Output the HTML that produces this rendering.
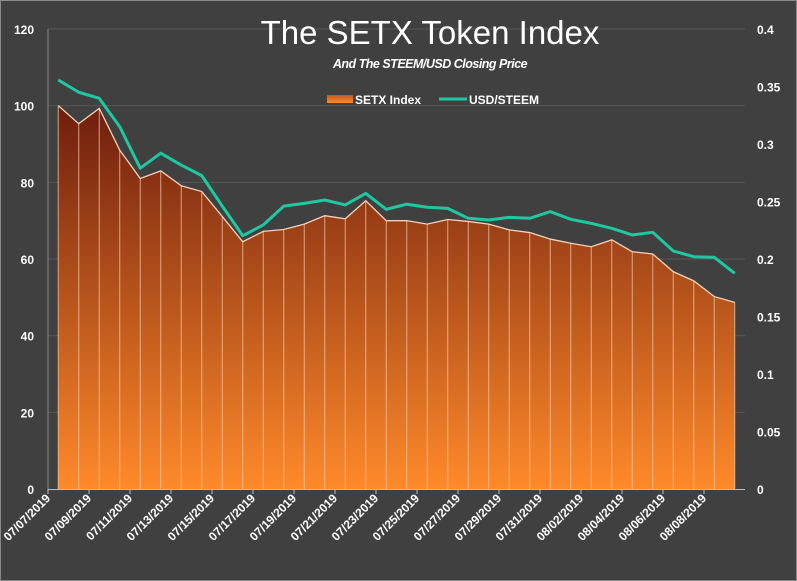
<!DOCTYPE html>
<html><head><meta charset="utf-8"><style>
html,body{margin:0;padding:0;background:#404040;}
svg{display:block;font-family:"Liberation Sans",sans-serif;}
</style></head><body>
<svg id="chart" width="797" height="581" viewBox="0 0 797 581">
<defs>
<linearGradient id="areaGrad" x1="0" y1="0" x2="0" y2="1" gradientUnits="userSpaceOnUse" x1b="0">
<stop offset="0" stop-color="#6e1e0e"/>
<stop offset="1" stop-color="#ff8a2a"/>
</linearGradient>
<linearGradient id="legGrad" x1="0" y1="0" x2="0" y2="1">
<stop offset="0" stop-color="#c8561c"/><stop offset="1" stop-color="#ff8a2a"/>
</linearGradient>
</defs>
<rect x="0.5" y="0.5" width="796" height="580" fill="#404040" stroke="#8a8a8a"/>
<g id="grid"></g>
<g id="area"></g>
<g id="line"></g>
<g id="axes"></g>
<text x="430" y="44" text-anchor="middle" fill="#fff" font-size="33">The SETX Token Index</text>
<text x="430" y="68" text-anchor="middle" fill="#fff" font-size="12.5" font-style="italic" font-weight="bold" letter-spacing="-0.5">And The STEEM/USD Closing Price</text>
<g>
<rect x="327" y="95" width="26" height="8" fill="url(#legGrad)"/>
<text x="355" y="104" fill="#fff" font-size="12" font-weight="bold">SETX Index</text>
<line x1="439" y1="99" x2="467" y2="99" stroke="#1ec8a0" stroke-width="3"/>
<text x="469" y="104" fill="#fff" font-size="12" font-weight="bold">USD/STEEM</text>
</g>
</svg>
<script>
const dateLabels=["07/07/2019","07/09/2019","07/11/2019","07/13/2019","07/15/2019","07/17/2019","07/19/2019","07/21/2019","07/23/2019","07/25/2019","07/27/2019","07/29/2019","07/31/2019","08/02/2019","08/04/2019","08/06/2019","08/08/2019"];
const setxValues=[100,95.3,99.3,88.4,81,83,79.1,77.6,71.1,64.5,67.2,67.7,69.1,71.3,70.5,75.2,70,70,69.1,70.3,69.8,69.1,67.6,66.9,65.2,64.1,63.2,65,61.9,61.3,56.7,54.3,50.2,48.7];
const steemValues=[0.3557,0.345,0.3397,0.315,0.279,0.292,0.2817,0.2725,0.246,0.2203,0.2296,0.246,0.2484,0.2513,0.247,0.257,0.2432,0.2476,0.245,0.244,0.2354,0.2339,0.2362,0.2354,0.2412,0.2345,0.231,0.2267,0.2209,0.2232,0.207,0.202,0.2015,0.1876];
const leftTicks=[0,20,40,60,80,100,120];
const rightTicks=[0,0.05,0.1,0.15,0.2,0.25,0.3,0.35,0.4];

const NS="http://www.w3.org/2000/svg";
const X0=48,DAY=20.5,Y0=489,YT=29;
const xAt=i=>X0+DAY*(i+0.5);
const yL=v=>Y0-(v/120)*(Y0-YT);
const yR=v=>Y0-(v/0.4)*(Y0-YT);
function mk(tag,attrs,parent){const e=document.createElementNS(NS,tag);for(const k in attrs)e.setAttribute(k,attrs[k]);parent.appendChild(e);return e;}
const grid=document.getElementById('grid'),area=document.getElementById('area'),line=document.getElementById('line'),axes=document.getElementById('axes');
const xEnd=X0+DAY*setxValues.length;

leftTicks.forEach(v=>{
  if(v>0){const g=mk('line',{x1:X0,x2:xEnd,y1:yL(v),y2:yL(v),stroke:'#575757','stroke-width':1},grid);
  
  }
  const t=mk('text',{x:34,y:yL(v)+5,'text-anchor':'end',fill:'#fff','font-size':12,'font-weight':'bold'},axes);
  t.textContent=v;
  
  
});
rightTicks.forEach(v=>{
  const t=mk('text',{x:757,y:yR(v)+5,fill:'#fff','font-size':12,'font-weight':'bold'},axes);
  t.textContent=v;
  
  
});
// area
let d='M'+xAt(0)+','+Y0;
setxValues.forEach((v,i)=>{d+=' L'+xAt(i)+','+yL(v);});
d+=' L'+xAt(setxValues.length-1)+','+Y0+' Z';
const a=mk('path',{d:d,fill:'url(#areaGrad)'},area);


document.querySelector('#areaGrad').setAttribute('x1',0);
const ag=document.querySelector('#areaGrad');ag.setAttribute('y1',yL(100));ag.setAttribute('y2',Y0);
setxValues.forEach((v,i)=>{
  const l=mk('line',{x1:xAt(i),x2:xAt(i),y1:yL(v),y2:Y0,stroke:'#f3c8a8','stroke-width':1,'stroke-opacity':0.75},area);
  
  
});
const ol=mk('polyline',{points:setxValues.map((v,i)=>xAt(i)+','+yL(v)).join(' '),fill:'none',stroke:'#f6d2b8','stroke-width':1.3},area);


const sl=mk('polyline',{points:steemValues.map((v,i)=>xAt(i)+','+yR(v)).join(' '),fill:'none',stroke:'#1ec8a0','stroke-width':3,'stroke-linejoin':'round'},line);


// axes
const ax=mk('line',{x1:X0,x2:X0,y1:YT,y2:Y0,stroke:'#888'},axes);


const bx=mk('line',{x1:X0,x2:xEnd,y1:Y0+0.5,y2:Y0+0.5,stroke:'#bbb'},axes);


dateLabels.forEach((s,k)=>{
  const x=X0+k*2*DAY;
  const tk=mk('line',{x1:x,x2:x,y1:Y0,y2:Y0+5,stroke:'#bbb'},axes);
  
  
  const t=mk('text',{x:x+3,y:Y0+10,'text-anchor':'end',fill:'#fff','font-size':12,'font-weight':'bold',transform:'rotate(-45 '+(x+3)+' '+(Y0+10)+')'},axes);
  t.textContent=s;
  
  
});
</script>
</body></html>
